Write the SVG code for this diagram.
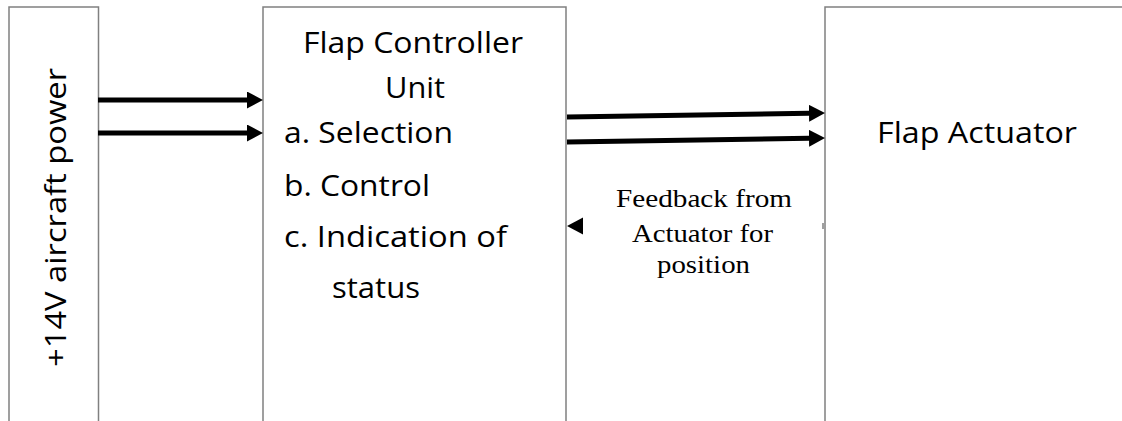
<svg xmlns="http://www.w3.org/2000/svg" width="1122" height="421" viewBox="0 0 1122 421">
  <style>
    .box { fill: #ffffff; stroke: #808080; stroke-width: 1.5; }
    .cal { font-family: "Open Sans", "Liberation Sans", sans-serif; font-size: 29px; fill: #000000; }
    .tms { font-family: "Liberation Serif", "Times New Roman", serif; font-size: 26px; fill: #000000; }
    .arr { stroke: #000000; stroke-width: 5; fill: none; }
  </style>
  <defs>
    <marker id="head" viewBox="0 0 16 17" refX="0" refY="8.5" markerWidth="16" markerHeight="17" markerUnits="userSpaceOnUse" orient="auto">
      <path d="M0,0 L16,8.5 L0,17 Z" fill="#000000"/>
    </marker>
  </defs>
  <rect x="0" y="0" width="1122" height="421" fill="#ffffff"/>

  <g id="power">
    <path class="box" d="M9,430 L9,7 L98.5,7 L98.5,430"/>
    <text class="cal" transform="translate(66,367) rotate(-90)" textLength="299" lengthAdjust="spacingAndGlyphs">+14V aircraft power</text>
  </g>

  <g id="controller">
    <path class="box" d="M263,430 L263,7 L566,7 L566,430"/>
    <text class="cal" x="303" y="53" textLength="220" lengthAdjust="spacingAndGlyphs">Flap Controller</text>
    <text class="cal" x="385" y="98" textLength="60" lengthAdjust="spacingAndGlyphs">Unit</text>
    <text class="cal" x="284" y="143" textLength="169" lengthAdjust="spacingAndGlyphs">a. Selection</text>
    <text class="cal" x="284" y="196" textLength="146" lengthAdjust="spacingAndGlyphs">b. Control</text>
    <text class="cal" x="284" y="247" textLength="223" lengthAdjust="spacingAndGlyphs">c. Indication of</text>
    <text class="cal" x="332" y="298" textLength="88" lengthAdjust="spacingAndGlyphs">status</text>
  </g>

  <g id="actuator">
    <path class="box" d="M825,430 L825,7 L1130,7"/>
    <text class="cal" x="877" y="143" textLength="200" lengthAdjust="spacingAndGlyphs">Flap Actuator</text>
  </g>

  <g id="connectors">
    <line class="arr" x1="98" y1="100" x2="247" y2="100" marker-end="url(#head)"/>
    <line class="arr" x1="98" y1="133" x2="247" y2="133" marker-end="url(#head)"/>
    <line class="arr" x1="567" y1="117" x2="809" y2="113.3" marker-end="url(#head)"/>
    <line class="arr" x1="567" y1="142" x2="809" y2="138.3" marker-end="url(#head)"/>
    <path d="M567,226 L583,217.5 L583,234.5 Z" fill="#000000"/>
    <line x1="823" y1="223" x2="823" y2="229" stroke="#404040" stroke-width="1"/>
    <text class="tms" x="616" y="207" textLength="176" lengthAdjust="spacingAndGlyphs">Feedback from</text>
    <text class="tms" x="632" y="242" textLength="141" lengthAdjust="spacingAndGlyphs">Actuator for</text>
    <text class="tms" x="657" y="273" textLength="93" lengthAdjust="spacingAndGlyphs">position</text>
  </g>
</svg>
